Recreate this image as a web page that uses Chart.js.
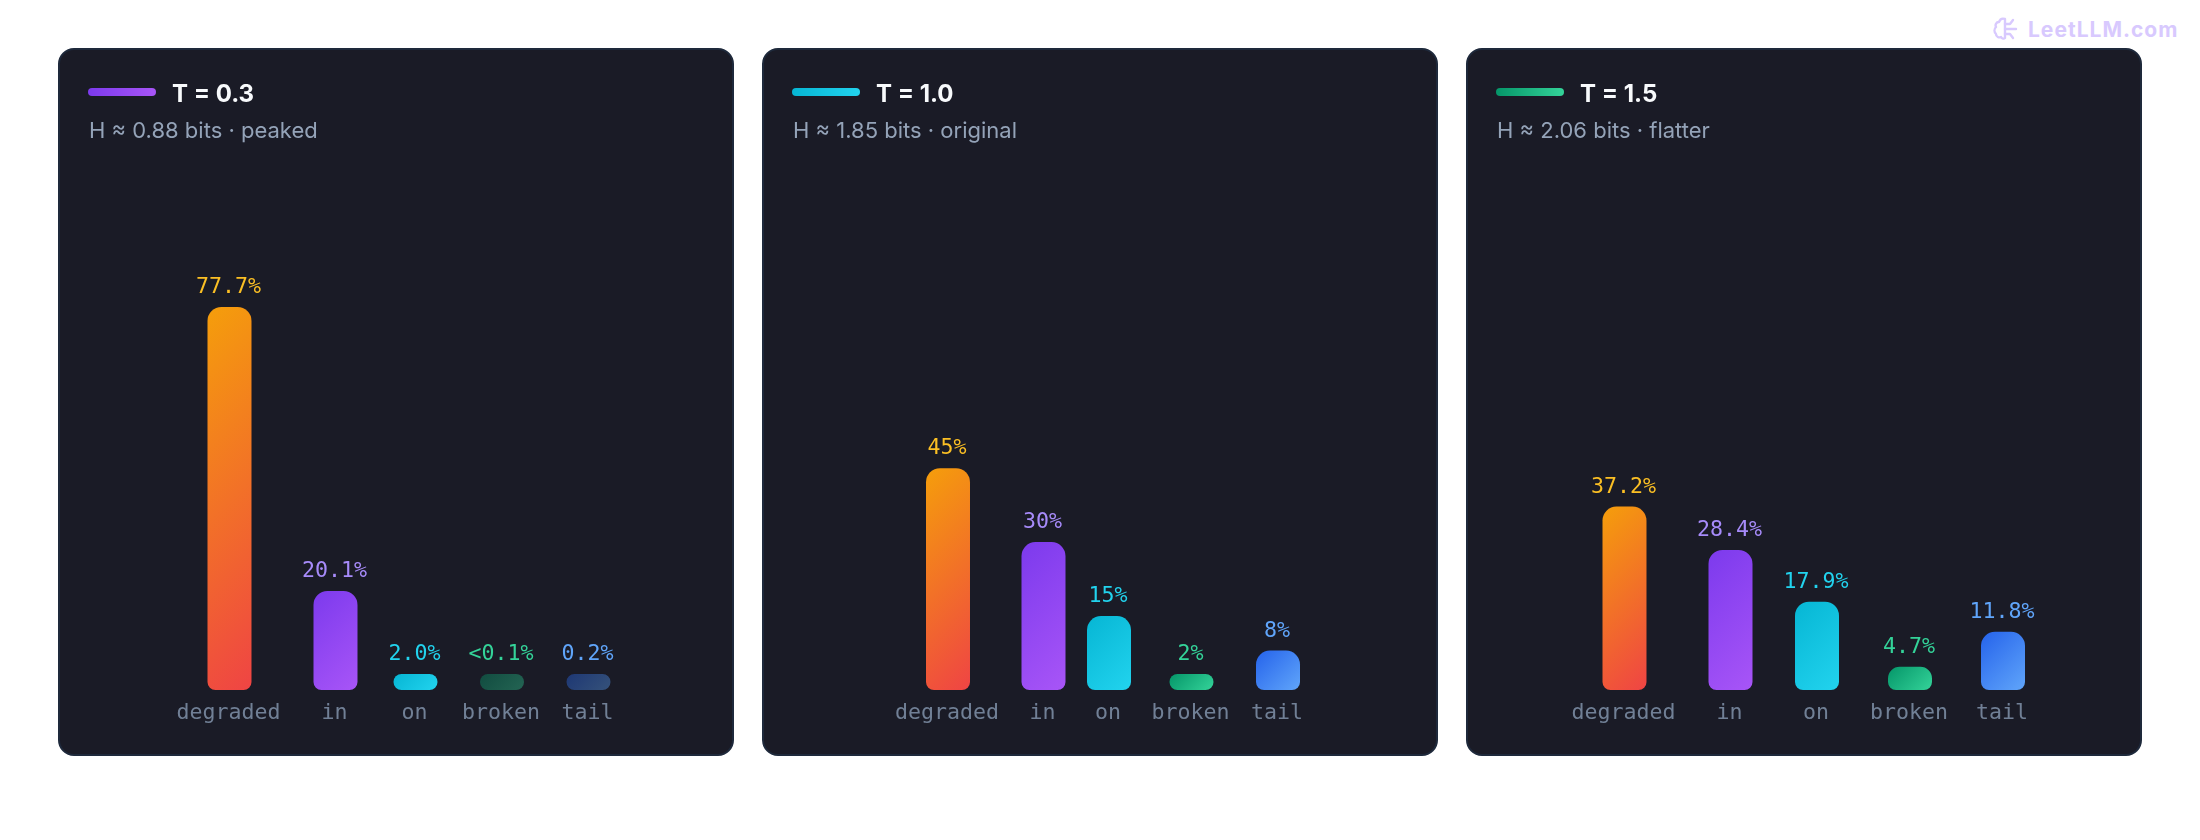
<!DOCTYPE html>
<html>
<head>
<meta charset="utf-8">
<title>Temperature</title>
<script src="https://cdn.jsdelivr.net/npm/chart.js@4/dist/chart.umd.min.js"></script>
<style>
  html, body { margin: 0; padding: 0; background: #fff; width: 2200px; height: 840px; overflow: hidden; }
  .card { position: absolute; top: 48px; width: 676px; height: 708px; box-sizing: border-box; background: #1a1b26; border: 2px solid #1e293b; border-radius: 16px; }
  .card canvas { position: absolute; left: -2px; top: -2px; }
  .chip { position: absolute; left: 28px; top: 38px; width: 68px; height: 8px; border-radius: 4px; }
  .title { position: absolute; left: 112px; top: 29px; font: 700 24px/30px Inter, sans-serif; color: #f8fafc; }
  .sub { position: absolute; left: 29px; top: 65px; font: 400 22px/30px Inter, sans-serif; color: #94a3b8; }
  .mark { position: absolute; left: 2028px; top: 15px; font: 700 21px/30px Inter, sans-serif; letter-spacing: 1px; color: #d8c9fe; }
  .brain { position: absolute; left: 1992px; top: 16px; }
</style>
</head>
<body>
<svg class="brain" width="26" height="26" viewBox="0 0 26 26" fill="none" stroke="#d8c9fe" stroke-width="2.4" stroke-linecap="round" stroke-linejoin="round">
  <path d="M13 3c-3-1-5 0-6 3-3 0-4 3-3 5-2 2-2 5 0 7 0 3 3 4 5 3 1 2 3 2 4 1V3z"/>
  <path d="M13 8h5l3-4M13 13h11M13 18h5l3 4"/>
</svg>
<div class="mark">LeetLLM.com</div>

<div class="card" style="left:58px"><canvas id="c1"></canvas>
  <div class="chip" style="background:linear-gradient(90deg,#7c3aed,#a855f7)"></div>
  <div class="title">T = 0.3</div><div class="sub">H ≈ 0.88 bits · peaked</div></div>
<div class="card" style="left:762px"><canvas id="c2"></canvas>
  <div class="chip" style="background:linear-gradient(90deg,#06b6d4,#22d3ee)"></div>
  <div class="title">T = 1.0</div><div class="sub">H ≈ 1.85 bits · original</div></div>
<div class="card" style="left:1466px"><canvas id="c3"></canvas>
  <div class="chip" style="background:linear-gradient(90deg,#059669,#34d399)"></div>
  <div class="title">T = 1.5</div><div class="sub">H ≈ 2.06 bits · flatter</div></div>

<script>
const categories = ["degraded", "in", "on", "broken", "tail"];

const valuesPeaked = [77.7, 20.1, 2.0, 0.05, 0.2];
const valuesOriginal = [45, 30, 15, 2, 8];
const valuesFlatter = [37.2, 28.4, 17.9, 4.7, 11.8];

const textPeaked = ["77.7%", "20.1%", "2.0%", "<0.1%", "0.2%"];
const textOriginal = ["45%", "30%", "15%", "2%", "8%"];
const textFlatter = ["37.2%", "28.4%", "17.9%", "4.7%", "11.8%"];

// bars below this share are drawn faded
const fadeBelow = 1;

const gradFrom = ["#f59e0b", "#7c3aed", "#06b6d4", "#059669", "#2563eb"];
const gradTo = ["#ef4444", "#a855f7", "#22d3ee", "#34d399", "#60a5fa"];
const valueColors = ["#fbbf24", "#a78bfa", "#22d3ee", "#34d399", "#60a5fa"];

const MONO = "'DejaVu Sans Mono', monospace";
const FONT_SIZE = 21.6;
const BAR_W = 44;
const MIN_BAR = 16;
const GAP = 21.5;

// category axis that spaces its items like a centred flex row:
// each item is as wide as its widest text, with a fixed gap between items
class FlexRowScale extends Chart.CategoryScale {
  static id = "flexRow";
  static defaults = Chart.CategoryScale.defaults;

  rowCentres() {
    const ctx = this.ctx;
    const texts = this.chart.options.plugins.valueText.texts;
    ctx.save();
    ctx.font = FONT_SIZE + "px " + MONO;
    const widths = this.getLabels().map(function (label, i) {
      return Math.max(BAR_W, ctx.measureText(label).width, ctx.measureText(texts[i]).width);
    });
    ctx.restore();
    const total = widths.reduce((a, b) => a + b, 0) + GAP * (widths.length - 1);
    let x = this.left + (this.width - total) / 2;
    return widths.map(function (w) {
      const c = x + w / 2;
      x += w + GAP;
      return c;
    });
  }

  getPixelForValue(value) {
    if (typeof value !== "number") value = this.parse(value);
    return this.rowCentres()[value];
  }
}
Chart.register(FlexRowScale);

function barFill(context) {
  const chart = context.chart;
  const i = context.dataIndex;
  const v = context.dataset.data[i];
  if (!chart.chartArea) return gradFrom[i];
  const cx = chart.scales.x.getPixelForValue(i);
  const base = chart.scales.y.getPixelForValue(0);
  const h = Math.max(MIN_BAR, base - chart.scales.y.getPixelForValue(v));
  // same geometry as a css 135deg gradient on the bar box
  const half = (BAR_W + h) / 4;
  const cy = base - h / 2;
  const g = chart.ctx.createLinearGradient(cx - half, cy - half, cx + half, cy + half);
  const alpha = v < fadeBelow ? "66" : "";
  g.addColorStop(0, gradFrom[i] + alpha);
  g.addColorStop(1, gradTo[i] + alpha);
  return g;
}

const valueText = {
  id: "valueText",
  afterDatasetsDraw(chart, args, opts) {
    const ctx = chart.ctx;
    ctx.save();
    ctx.font = FONT_SIZE + "px " + MONO;
    ctx.textAlign = "center";
    ctx.textBaseline = "alphabetic";
    chart.getDatasetMeta(0).data.forEach(function (bar, i) {
      ctx.fillStyle = valueColors[i];
      ctx.fillText(opts.texts[i], bar.x - 1, bar.y - 14);
    });
    ctx.restore();
  }
};

function drawPanel(id, values, texts) {
  const canvas = document.getElementById(id);
  canvas.style.width = "676px";
  canvas.style.height = "708px";
  canvas.width = 676;
  canvas.height = 708;
  new Chart(canvas, {
    type: "bar",
    data: {
      labels: categories,
      datasets: [{
        data: values,
        backgroundColor: barFill,
        barThickness: BAR_W,
        minBarLength: MIN_BAR,
        borderSkipped: false,
        inflateAmount: 0,
        borderRadius: { topLeft: 14, topRight: 14, bottomLeft: 8, bottomRight: 8 }
      }]
    },
    plugins: [valueText],
    options: {
      responsive: false,
      animation: false,
      layout: { padding: { top: 149, bottom: 0, left: 0, right: 0 } },
      plugins: {
        legend: { display: false },
        tooltip: { enabled: false },
        valueText: { texts: texts }
      },
      scales: {
        x: {
          type: "flexRow",
          afterFit: function (scale) { scale.height = 66; },
          grid: { display: false },
          border: { display: false },
          ticks: {
            color: "#718096",
            font: { family: MONO, size: FONT_SIZE },
            padding: 2,
            labelOffset: -1,
            autoSkip: false,
            maxRotation: 0
          }
        },
        y: { display: false, min: 0, max: 100 }
      }
    }
  });
}

drawPanel("c1", valuesPeaked, textPeaked);
drawPanel("c2", valuesOriginal, textOriginal);
drawPanel("c3", valuesFlatter, textFlatter);
</script>
</body>
</html>
